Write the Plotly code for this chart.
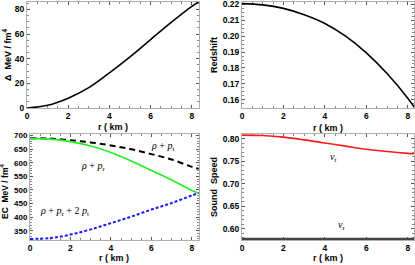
import plotly.graph_objects as go

r = [0, 1, 2, 3, 4, 5, 6, 7, 8, 8.33]
delta = [0, 2.2, 8, 16.5, 28.5, 41.5, 55.5, 69.5, 82.5, 86]
redshift = [0.2205, 0.2197, 0.2175, 0.2135, 0.2080, 0.2000, 0.1895, 0.1765, 0.1610, 0.1550]
ec_pt = [690, 689, 683, 675, 664, 650, 632, 612, 585, 578]
ec_pr = [690, 687, 678, 662, 638, 607, 572, 537, 498, 488]
ec_sum = [320, 323, 336, 355, 378, 402, 428, 452, 480, 488]
v_t = [0.8085, 0.8075, 0.804, 0.798, 0.791, 0.784, 0.777, 0.772, 0.768, 0.767]
v_r = [0.5774] * len(r)

W, H = 415, 265
def px(x): return x / W
def py(y): return 1 - y / H

xl = [px(27), px(199)]
xl2 = [px(30), px(199)]
xr = [px(242), px(414)]
yt = [py(108), py(2)]
yb = [py(240), py(134)]

fig = go.Figure()
fig.add_trace(go.Scatter(x=r, y=delta, mode='lines', line=dict(color='black', width=1.6, shape='spline'), xaxis='x', yaxis='y'))
fig.add_trace(go.Scatter(x=r, y=redshift, mode='lines', line=dict(color='black', width=1.6, shape='spline'), xaxis='x2', yaxis='y2'))
fig.add_trace(go.Scatter(x=r, y=ec_pt, mode='lines', line=dict(color='black', width=2, dash='6px,4px', shape='spline'), xaxis='x3', yaxis='y3'))
fig.add_trace(go.Scatter(x=r, y=ec_pr, mode='lines', line=dict(color='#22ee22', width=1.6, shape='spline'), xaxis='x3', yaxis='y3'))
fig.add_trace(go.Scatter(x=r, y=ec_sum, mode='lines', line=dict(color='#1a1aff', width=2, dash='3px,2px', shape='spline'), xaxis='x3', yaxis='y3'))
fig.add_trace(go.Scatter(x=r, y=v_t, mode='lines', line=dict(color='#ff1a1a', width=1.6, shape='spline'), xaxis='x4', yaxis='y4'))
fig.add_trace(go.Scatter(x=r, y=v_r, mode='lines', line=dict(color='#444444', width=2.5), xaxis='x4', yaxis='y4'))

tickfont = dict(family='Liberation Sans', size=8.5, color='black', weight='bold')
def ax(domain, anchor, rng, dtick, minor_dtick):
    return dict(domain=domain, anchor=anchor, range=rng, dtick=dtick, tick0=0,
                showline=True, mirror='ticks', linecolor='#b0b0b0', linewidth=1,
                ticks='inside', ticklen=3, tickcolor='#555555', tickwidth=1,
                minor=dict(ticks='inside', ticklen=2, dtick=minor_dtick, tickcolor='#888888'),
                showgrid=False, zeroline=False, tickfont=tickfont, fixedrange=True,
                layer='below traces', automargin=False, ticklabeloverflow='allow')

lay = dict(width=W, height=H, margin=dict(l=0, r=0, t=0, b=0, autoexpand=False), showlegend=False,
           plot_bgcolor='white', paper_bgcolor='white')
lay['xaxis'] = ax(xl, 'y', [0, 8.35], 2, 0.5)
lay['yaxis'] = ax(yt, 'x', [0, 86], 20, 5)
lay['xaxis2'] = ax(xr, 'y2', [0, 8.3], 2, 0.5)
lay['yaxis2'] = ax(yt, 'x2', [0.1548, 0.2215], 0.01, 0.0025)
lay['yaxis2']['tickformat'] = '.2f'
lay['xaxis3'] = ax(xl2, 'y3', [0, 8.35], 2, 0.5)
lay['yaxis3'] = ax(yb, 'x3', [316, 706], 50, 10)
lay['yaxis3']['tickfont'] = dict(tickfont, size=8)
lay['xaxis4'] = ax(xr, 'y4', [0, 8.3], 2, 0.5)
lay['yaxis4'] = ax(yb, 'x4', [0.5752, 0.811], 0.05, 0.01)
lay['yaxis4']['tickformat'] = '.2f'
fig.update_layout(**lay)

tf = dict(family='Liberation Sans', size=9, color='black', weight='bold')
def title(text, x, y, angle=0, size=9):
    fig.add_annotation(text=text, x=px(x), y=py(y), xref='paper', yref='paper', showarrow=False,
                       textangle=angle, font=dict(tf, size=size), xanchor='center', yanchor='middle')

title('Δ  MeV / fm<sup>4</sup>', 7, 55, -90)
title('Redshift', 214, 55, -90)
title('EC  MeV / fm<sup>4</sup>', 4, 192, -90, 8.5)
title('Sound  Speed', 214, 187, -90)
title('r ( km )', 113, 127)
title('r ( km )', 328, 128)
title('r ( km )', 114, 258)
title('r ( km )', 328, 258)

af = dict(family='Liberation Serif', size=10, color='black')
def lab(text, x, y, xa, ya):
    fig.add_annotation(text=text, x=x, y=y, xref=xa, yref=ya, showarrow=False, font=af)

lab('<i>ρ</i> + <i>p</i><sub>t</sub>', 6.55, 660, 'x3', 'y3')
lab('<i>ρ</i> + <i>p</i><sub>r</sub>', 3.1, 588, 'x3', 'y3')
lab('<i>ρ</i> + <i>p</i><sub>r</sub> + 2 <i>p</i><sub>t</sub>', 1.7, 420, 'x3', 'y3')
lab('<i>v</i><sub>t</sub>', 4.4, 0.758, 'x4', 'y4')
lab('<i>v</i><sub>r</sub>', 4.8, 0.607, 'x4', 'y4')

fig.write_html('out.html', config={'displayModeBar': False},
               post_script="document.body.style.margin='0';document.body.style.overflow='hidden';")
